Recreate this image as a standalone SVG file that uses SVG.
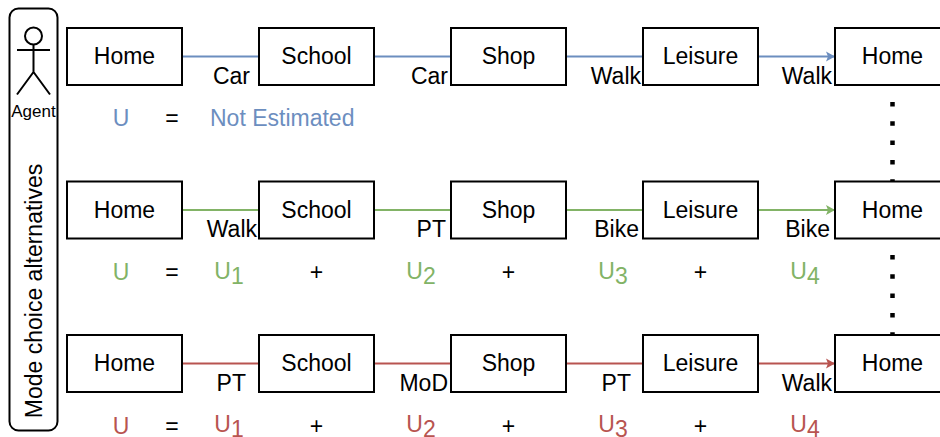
<svg xmlns="http://www.w3.org/2000/svg" width="940" height="437" viewBox="0 0 940 437">
<defs>
<marker id="ab" markerUnits="userSpaceOnUse" markerWidth="10" markerHeight="12" refX="9" refY="6" orient="auto"><path d="M0 1 L9 6 L0 11 L2 6Z" fill="#6c8ebf"/></marker>
<marker id="ag" markerUnits="userSpaceOnUse" markerWidth="10" markerHeight="12" refX="9" refY="6" orient="auto"><path d="M0 1 L9 6 L0 11 L2 6Z" fill="#82b366"/></marker>
<marker id="ar" markerUnits="userSpaceOnUse" markerWidth="10" markerHeight="12" refX="9" refY="6" orient="auto"><path d="M0 1 L9 6 L0 11 L2 6Z" fill="#b85450"/></marker>
</defs>
<style>
text{font-family:"Liberation Sans",Arial,sans-serif;font-size:23px;fill:#000}
.m{text-anchor:middle}.e{text-anchor:end}
.box{fill:#fff;stroke:#000;stroke-width:2}
.c{fill:none;stroke-width:2}
.b{stroke:#6c8ebf;marker-end:url(#ab)}.g{stroke:#82b366;marker-end:url(#ag)}.r{stroke:#b85450;marker-end:url(#ar)}
.tb{fill:#6c8ebf}.tg{fill:#82b366}.tr{fill:#b85450}
.d{fill:none;stroke:#000;stroke-width:4.5;stroke-dasharray:4.5 14.8}
.s{font-size:23px}
</style>
<g id="frame"><rect x="9.500" y="8.500" width="48" height="422" rx="9" fill="#fff" stroke="#000" stroke-width="2"/>
<text class="m" transform="translate(42 291) rotate(-90)">Mode choice alternatives</text></g>
<g id="agent" fill="none" stroke="#000" stroke-width="2"><circle cx="33.500" cy="36" r="8.500"/><path d="M33.500 44.500V72M17 50H50M33.500 72L17 94.500M33.500 72L50 94.500"/>
<text class="m" x="33.500" y="117" style="font-size:17px;stroke:none">Agent</text></g>
<g id="connectors">
<path class="c b" d="M182 56.500H259M374 56.500H451M566 56.500H643M758 56.500H835"/>
<path class="c g" d="M182 210H259M374 210H451M566 210H643M758 210H835"/>
<path class="c r" d="M182 363.500H259M374 363.500H451M566 363.500H643M758 363.500H835"/>
<path class="d" d="M892.500 102V181M892.500 255V335"/>
</g>
<g id="r1-home"><rect class="box" x="67" y="28" width="115" height="57"/><text class="m" x="124.500" y="64">Home</text></g>
<g id="r1-school"><rect class="box" x="259" y="28" width="115" height="57"/><text class="m" x="316.500" y="64">School</text></g>
<g id="r1-shop"><rect class="box" x="451" y="28" width="115" height="57"/><text class="m" x="508.500" y="64">Shop</text></g>
<g id="r1-leisure"><rect class="box" x="643" y="28" width="115" height="57"/><text class="m" x="700.500" y="64">Leisure</text></g>
<g id="r1-home2"><rect class="box" x="835" y="28" width="115" height="57"/><text class="m" x="892.500" y="64">Home</text></g>
<g id="r2-home"><rect class="box" x="67" y="181.500" width="115" height="57"/><text class="m" x="124.500" y="218">Home</text></g>
<g id="r2-school"><rect class="box" x="259" y="181.500" width="115" height="57"/><text class="m" x="316.500" y="218">School</text></g>
<g id="r2-shop"><rect class="box" x="451" y="181.500" width="115" height="57"/><text class="m" x="508.500" y="218">Shop</text></g>
<g id="r2-leisure"><rect class="box" x="643" y="181.500" width="115" height="57"/><text class="m" x="700.500" y="218">Leisure</text></g>
<g id="r2-home2"><rect class="box" x="835" y="181.500" width="115" height="57"/><text class="m" x="892.500" y="218">Home</text></g>
<g id="r3-home"><rect class="box" x="67" y="335" width="115" height="57"/><text class="m" x="124.500" y="371">Home</text></g>
<g id="r3-school"><rect class="box" x="259" y="335" width="115" height="57"/><text class="m" x="316.500" y="371">School</text></g>
<g id="r3-shop"><rect class="box" x="451" y="335" width="115" height="57"/><text class="m" x="508.500" y="371">Shop</text></g>
<g id="r3-leisure"><rect class="box" x="643" y="335" width="115" height="57"/><text class="m" x="700.500" y="371">Leisure</text></g>
<g id="r3-home2"><rect class="box" x="835" y="335" width="115" height="57"/><text class="m" x="892.500" y="371">Home</text></g>
<g id="labels">
<text class="e" x="250" y="84">Car</text><text class="e" x="448" y="84">Car</text><text class="e" x="641" y="84">Walk</text><text class="e" x="832" y="84">Walk</text>
<text class="e" x="257" y="237">Walk</text><text class="e" x="446" y="237">PT</text><text class="e" x="639" y="237">Bike</text><text class="e" x="830" y="237">Bike</text>
<text class="e" x="246" y="391">PT</text><text class="e" x="448" y="391">MoD</text><text class="e" x="631" y="391">PT</text><text class="e" x="832" y="391">Walk</text>
</g>
<g id="eq1"><text class="m tb" x="121" y="126">U</text><text class="m" x="172" y="126">=</text><text class="tb" x="210" y="126">Not Estimated</text></g>
<g id="eq2"><text class="m tg" x="121" y="280">U</text><text class="m" x="172" y="280">=</text>
<text class="m tg" x="229" y="279">U<tspan dy="5">1</tspan></text><text class="m" x="316.500" y="280">+</text><text class="m tg" x="421" y="279">U<tspan dy="5">2</tspan></text><text class="m" x="508.500" y="280">+</text><text class="m tg" x="613" y="279">U<tspan dy="5">3</tspan></text><text class="m" x="700.500" y="280">+</text><text class="m tg" x="805" y="279">U<tspan dy="5">4</tspan></text></g>
<g id="eq3"><text class="m tr" x="121" y="434">U</text><text class="m" x="172" y="434">=</text>
<text class="m tr" x="229" y="432">U<tspan dy="5">1</tspan></text><text class="m" x="316.500" y="434">+</text><text class="m tr" x="421" y="432">U<tspan dy="5">2</tspan></text><text class="m" x="508.500" y="434">+</text><text class="m tr" x="613" y="432">U<tspan dy="5">3</tspan></text><text class="m" x="700.500" y="434">+</text><text class="m tr" x="805" y="432">U<tspan dy="5">4</tspan></text></g>
</svg>
